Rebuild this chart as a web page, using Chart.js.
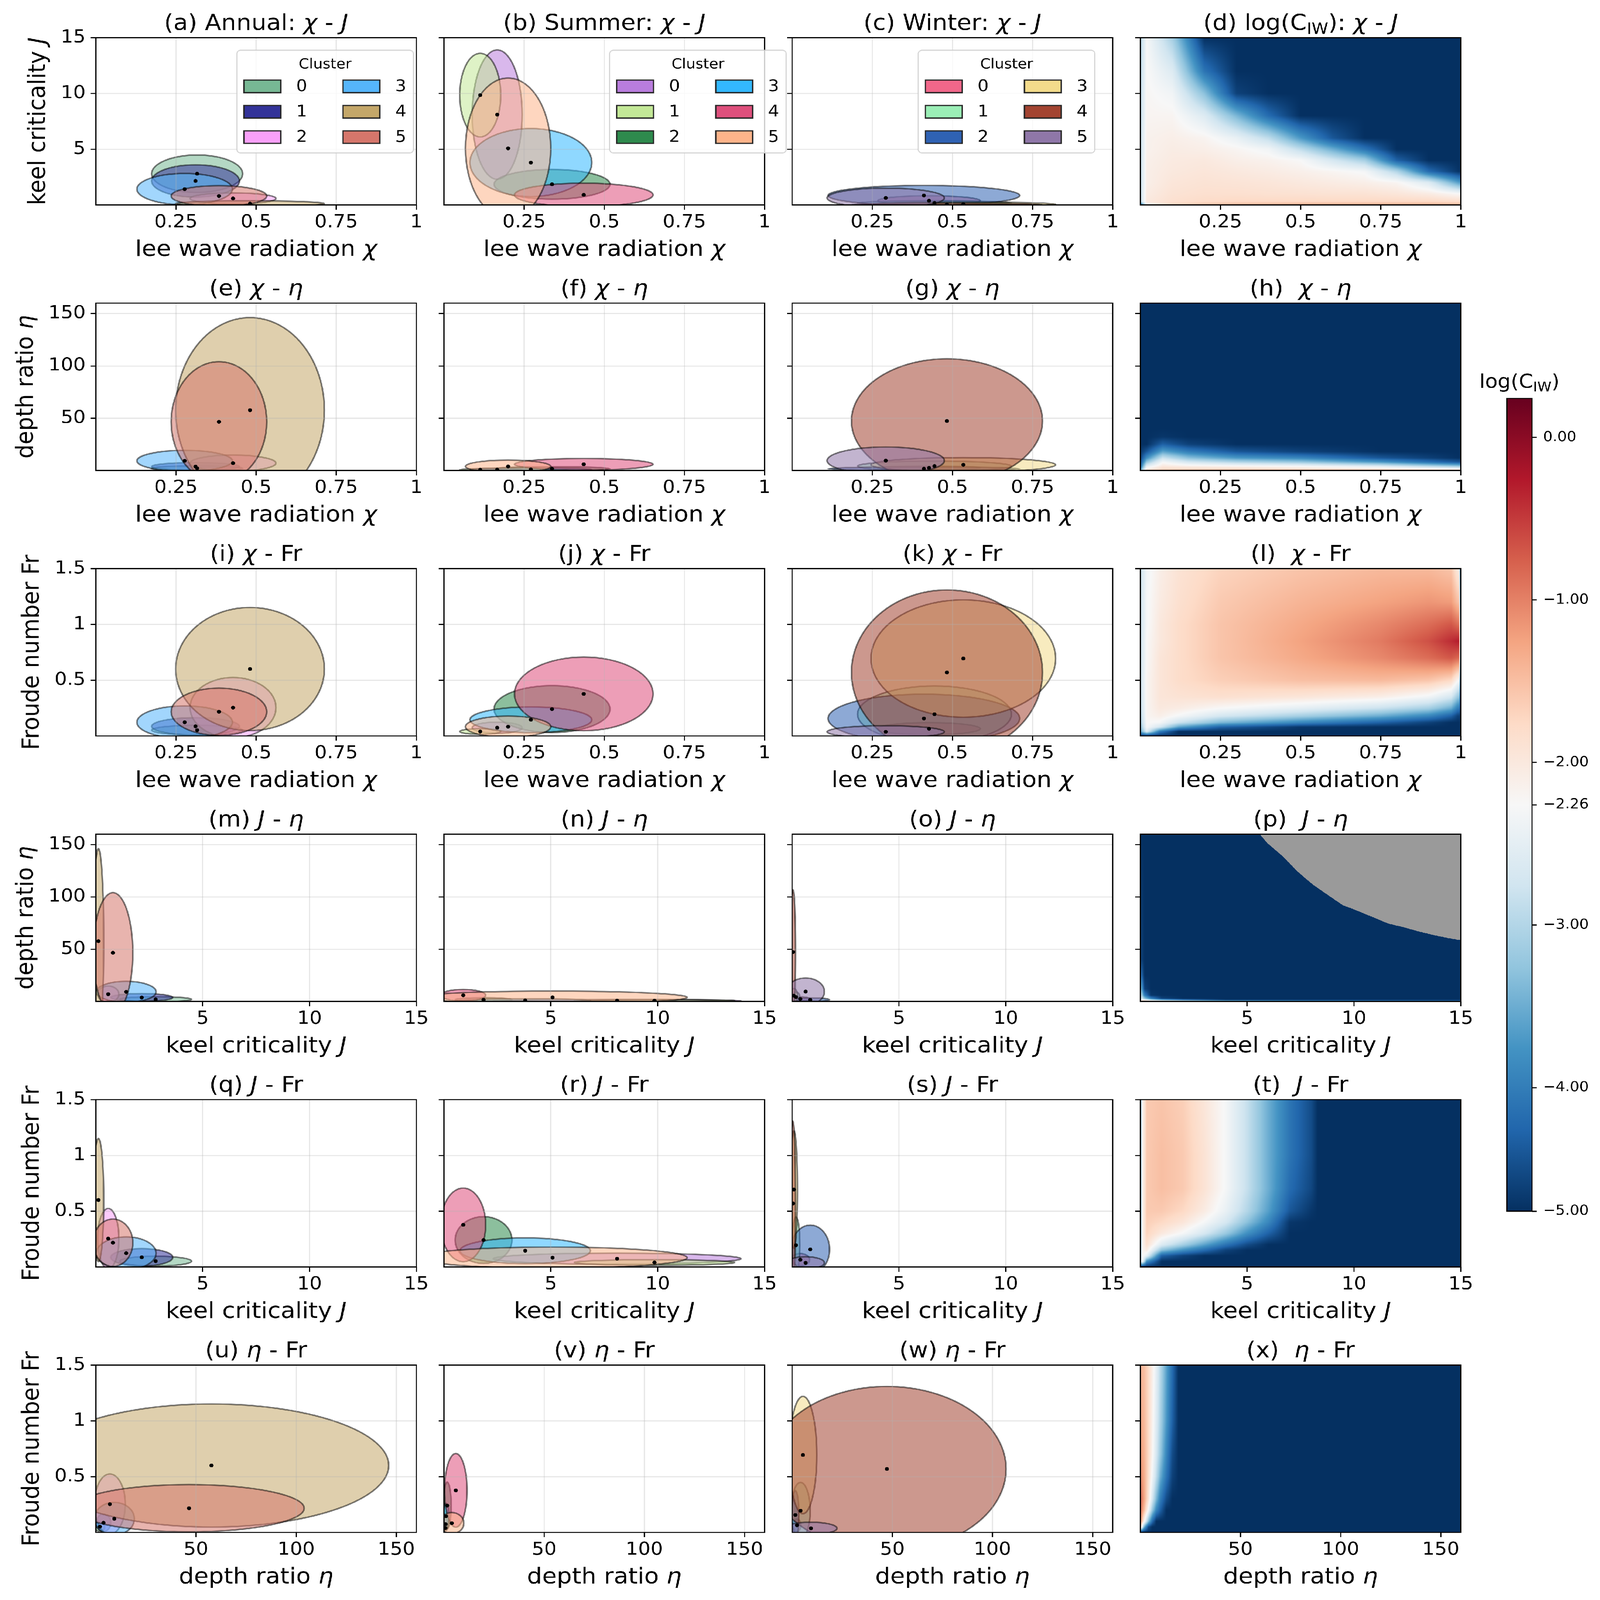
<!DOCTYPE html>
<html>
<head>
<meta charset="UTF-8">
<title>Cluster ellipses and log(C_IW)</title>
<script src="https://cdn.jsdelivr.net/npm/chart.js@4.4.1/dist/chart.umd.min.js"></script>
<style>
  html, body { margin: 0; padding: 0; background: #fff; overflow: hidden; }
  #fig { position: relative; width: 5910px; height: 6370px; background: #fff; overflow: hidden; transform-origin: 0 0; }
  #fig canvas { position: absolute; }
</style>
</head>
<body>
<div id="fig"></div>
<script>
// ---- cluster means and spreads (chi, J, eta, Fr) ----
const clusterIds = ['0', '1', '2', '3', '4', '5'];

const annualChi = [0.316, 0.311, 0.428, 0.277, 0.481, 0.384];
const annualJ   = [2.80, 2.15, 0.58, 1.42, 0.12, 0.80];
const annualEta = [2.0, 3.8, 7.0, 9.2, 57.7, 46.5];
const annualFr  = [0.052, 0.086, 0.254, 0.123, 0.600, 0.217];
const annualChiSd = [0.142, 0.137, 0.134, 0.149, 0.232, 0.149];
const annualJSd   = [1.68, 1.45, 0.50, 1.40, 0.25, 0.93];
const annualEtaSd = [2.5, 3.7, 7.7, 10.0, 88.5, 57.5];
const annualFrSd  = [0.044, 0.078, 0.27, 0.146, 0.552, 0.212];

const summerChi = [0.166, 0.113, 0.337, 0.271, 0.436, 0.200];
const summerJ   = [8.10, 9.85, 1.85, 3.80, 0.90, 5.08];
const summerEta = [0.8, 0.7, 1.6, 1.0, 5.9, 3.9];
const summerFr  = [0.074, 0.040, 0.241, 0.145, 0.377, 0.083];
const summerChiSd = [0.078, 0.064, 0.181, 0.190, 0.216, 0.133];
const summerJSd   = [5.8, 3.75, 1.33, 3.05, 1.05, 6.3];
const summerEtaSd = [1.2, 1.0, 2.0, 1.5, 5.6, 6.0];
const summerFrSd  = [0.05, 0.025, 0.21, 0.115, 0.33, 0.095];

const winterChi = [0.427, 0.444, 0.411, 0.534, 0.483, 0.292];
const winterJ   = [0.38, 0.18, 0.85, 0.08, 0.04, 0.63];
const winterEta = [2.4, 4.2, 1.6, 5.4, 47.3, 9.4];
const winterFr  = [0.065, 0.195, 0.157, 0.694, 0.569, 0.037];
const winterChiSd = [0.160, 0.240, 0.299, 0.288, 0.298, 0.183];
const winterJSd   = [0.44, 0.18, 0.90, 0.17, 0.12, 0.88];
const winterEtaSd = [2.0, 4.8, 1.8, 6.9, 59.5, 13.0];
const winterFrSd  = [0.055, 0.253, 0.218, 0.526, 0.740, 0.055];

const annualColors = ['#77b894', '#333399', '#f9a0f9', '#55b5fb', '#c4a769', '#d5766b'];
const summerColors = ['#b97ddd', '#c3e897', '#2e8a4d', '#33b8ff', '#de4f7c', '#feb48a'];
const winterColors = ['#f1678a', '#9beeb6', '#2f62b3', '#f3db8b', '#a34431', '#8f77a8'];
const seasonNames = ['Annual', 'Summer', 'Winter'];

// ---- axes ----
const chiRange = [0, 1],   chiTicks = [0.25, 0.5, 0.75, 1], chiTickLabels = ['0.25', '0.5', '0.75', '1'];
const jRange   = [0, 15],  jTicks = [5, 10, 15],            jTickLabels = ['5', '10', '15'];
const etaRange = [0, 160], etaTicks = [50, 100, 150],       etaTickLabels = ['50', '100', '150'];
const frRange  = [0, 1.5], frTicks = [0.5, 1, 1.5],         frTickLabels = ['0.5', '1', '1.5'];

// ---- log(C_IW) fields (rows = y nodes, bottom to top) ----
const dGridX = [0, 0.02, 0.1, 0.2, 0.3, 0.4, 0.5, 0.6, 0.7, 0.8, 0.9, 1.0];
const dGridY = [0, 0.3, 1, 2, 3, 4, 5, 6, 8, 10, 12, 15];
const dLogC = [
  [-4.5, -2.3, -1.7, -1.5, -1.4, -1.35, -1.3, -1.3, -1.3, -1.3, -1.3, -1.4],
  [-2.9, -2.0, -1.85, -1.78, -1.75, -1.75, -1.75, -1.75, -1.75, -1.75, -1.75, -1.8],
  [-2.85, -2.05, -1.9, -1.85, -1.85, -1.87, -1.88, -1.9, -1.9, -1.95, -2.05, -2.26],
  [-2.85, -2.1, -1.95, -1.9, -1.92, -1.95, -2.0, -2.05, -2.1, -2.2, -2.6, -3.7],
  [-2.85, -2.1, -2.0, -1.95, -2.0, -2.05, -2.12, -2.2, -2.3, -3.0, -4.2, -4.76],
  [-2.85, -2.12, -2.03, -2.0, -2.1, -2.15, -2.26, -2.7, -3.1, -4.3, -4.76, -4.76],
  [-2.85, -2.15, -2.06, -2.1, -2.2, -2.35, -2.9, -3.5, -4.1, -4.76, -4.76, -4.76],
  [-2.85, -2.15, -2.1, -2.18, -2.45, -2.9, -3.7, -4.4, -4.76, -4.76, -4.76, -4.76],
  [-2.9, -2.2, -2.2, -2.6, -3.4, -4.2, -4.76, -4.76, -4.76, -4.76, -4.76, -4.76],
  [-2.9, -2.22, -2.35, -3.3, -4.6, -4.76, -4.76, -4.76, -4.76, -4.76, -4.76, -4.76],
  [-2.95, -2.25, -2.6, -4.1, -4.76, -4.76, -4.76, -4.76, -4.76, -4.76, -4.76, -4.76],
  [-3.0, -2.3, -3.1, -4.76, -4.76, -4.76, -4.76, -4.76, -4.76, -4.76, -4.76, -4.76]
];

const hGridX = [0, 0.02, 0.07, 0.15, 0.3, 0.5, 0.75, 1.0];
const hGridY = [0, 1.5, 4, 8, 12, 18, 25, 32, 40, 160];
const hLogC = [
  [-3.5, -1.8, -1.6, -1.5, -1.4, -1.4, -1.45, -1.6],
  [-3.8, -2.1, -1.8, -1.8, -1.8, -1.9, -2.0, -2.3],
  [-4.2, -2.5, -2.0, -2.1, -2.2, -2.3, -2.6, -3.2],
  [-4.5, -3.2, -2.3, -2.7, -3.0, -3.2, -3.7, -4.4],
  [-4.6, -3.8, -2.8, -3.3, -3.7, -3.9, -4.4, -4.76],
  [-4.7, -4.4, -3.6, -4.0, -4.4, -4.6, -4.76, -4.76],
  [-4.76, -4.76, -4.3, -4.6, -4.76, -4.76, -4.76, -4.76],
  [-4.76, -4.76, -4.7, -4.76, -4.76, -4.76, -4.76, -4.76],
  [-4.76, -4.76, -4.76, -4.76, -4.76, -4.76, -4.76, -4.76],
  [-4.76, -4.76, -4.76, -4.76, -4.76, -4.76, -4.76, -4.76]
];

const lGridX = [0, 0.02, 0.06, 0.12, 0.25, 0.5, 0.75, 0.9, 0.97, 0.99, 0.994, 1.0];
const lGridY = [0, 0.04, 0.08, 0.12, 0.18, 0.25, 0.35, 0.5, 0.7, 0.85, 1.0, 1.2, 1.5];
const lLogC = [
  [-4.76, -4.76, -4.76, -4.76, -4.76, -4.76, -4.76, -4.76, -4.76, -4.76, -4.76, -4.76],
  [-3.6, -2.6, -4.0, -4.76, -4.76, -4.76, -4.76, -4.76, -4.76, -4.76, -4.76, -4.76],
  [-3.3, -2.3, -2.7, -3.6, -4.3, -4.7, -4.76, -4.76, -4.76, -4.76, -4.76, -4.76],
  [-3.1, -2.25, -2.3, -2.8, -3.4, -3.9, -4.3, -4.6, -4.76, -4.76, -4.76, -4.76],
  [-3.0, -2.2, -2.1, -2.3, -2.7, -3.1, -3.5, -3.9, -4.3, -4.6, -4.6, -4.76],
  [-2.9, -2.2, -2.0, -2.05, -2.25, -2.5, -2.8, -3.1, -3.5, -4.0, -4.0, -4.76],
  [-2.85, -2.2, -1.95, -1.9, -1.85, -1.95, -2.1, -2.35, -2.7, -3.2, -3.2, -4.76],
  [-2.8, -2.2, -1.95, -1.8, -1.65, -1.5, -1.45, -1.55, -1.75, -2.2, -2.2, -4.7],
  [-2.8, -2.25, -1.95, -1.8, -1.55, -1.3, -1.05, -0.85, -0.7, -0.8, -0.8, -4.6],
  [-2.8, -2.25, -2.0, -1.8, -1.55, -1.25, -0.95, -0.65, -0.4, -0.3, -0.3, -4.5],
  [-2.8, -2.3, -2.0, -1.8, -1.55, -1.3, -1.05, -0.85, -0.7, -0.85, -0.85, -4.6],
  [-2.8, -2.3, -2.05, -1.85, -1.6, -1.4, -1.25, -1.15, -1.2, -1.5, -1.5, -4.7],
  [-2.8, -2.35, -2.1, -1.9, -1.7, -1.55, -1.45, -1.45, -1.55, -2.0, -2.0, -4.7]
];

const pGridX = [0, 0.05, 0.2, 0.5, 1, 2, 4, 8, 15];
const pGridY = [0, 0.5, 1.5, 3, 6, 12, 25, 40, 160];
const pLogC = [
  [-4.76, -1.5, -1.3, -1.3, -1.4, -1.8, -2.3, -2.6, -2.8],
  [-4.76, -1.8, -1.6, -1.8, -2.0, -2.3, -2.9, -3.5, -4.0],
  [-4.76, -2.2, -2.5, -3.0, -3.6, -4.2, -4.76, -4.76, -4.76],
  [-4.76, -2.6, -3.3, -4.0, -4.6, -4.76, -4.76, -4.76, -4.76],
  [-4.76, -3.0, -4.0, -4.7, -4.76, -4.76, -4.76, -4.76, -4.76],
  [-4.76, -3.5, -4.6, -4.76, -4.76, -4.76, -4.76, -4.76, -4.76],
  [-4.76, -4.2, -4.76, -4.76, -4.76, -4.76, -4.76, -4.76, -4.76],
  [-4.76, -4.6, -4.76, -4.76, -4.76, -4.76, -4.76, -4.76, -4.76],
  [-4.76, -4.76, -4.76, -4.76, -4.76, -4.76, -4.76, -4.76, -4.76]
];
// edge of the undefined (grey) region in panel (p)
const pNanJ   = [5.59, 5.94, 6.65, 7.36, 8.07, 8.77, 9.48, 10.0, 10.9, 11.6, 12.3, 13.0, 13.7, 14.4, 15.0];
const pNanEta = [160, 151.5, 139.1, 124.2, 111.8, 101.9, 92.0, 88.0, 80.5, 74.5, 71.1, 67.1, 63.6, 60.6, 58.6];

const tGridX = [0, 0.1, 0.3, 1, 2, 3, 4, 5, 6, 7, 8, 8.3, 15];
const tGridY = [0, 0.05, 0.1, 0.15, 0.2, 0.3, 0.4, 0.5, 0.7, 1.0, 1.5];
const tLogC = [
  [-4.76, -4.76, -4.76, -4.76, -4.76, -4.76, -4.76, -4.76, -4.76, -4.76, -4.76, -4.76, -4.76],
  [-3.0, -2.3, -3.8, -4.76, -4.76, -4.76, -4.76, -4.76, -4.76, -4.76, -4.76, -4.76, -4.76],
  [-3.2, -2.2, -2.5, -4.3, -4.6, -4.76, -4.76, -4.76, -4.76, -4.76, -4.76, -4.76, -4.76],
  [-3.3, -2.2, -2.05, -3.3, -3.8, -4.2, -4.6, -4.76, -4.76, -4.76, -4.76, -4.76, -4.76],
  [-3.4, -2.2, -1.85, -2.6, -3.1, -3.6, -4.1, -4.5, -4.76, -4.76, -4.76, -4.76, -4.76],
  [-3.5, -2.2, -1.7, -2.0, -2.3, -2.7, -3.2, -3.8, -4.3, -4.76, -4.76, -4.76, -4.76],
  [-3.5, -2.2, -1.65, -1.75, -1.95, -2.3, -2.7, -3.3, -3.9, -4.7, -4.76, -4.76, -4.76],
  [-3.5, -2.2, -1.6, -1.6, -1.75, -2.05, -2.45, -3.0, -3.65, -4.4, -4.7, -4.76, -4.76],
  [-3.5, -2.2, -1.6, -1.5, -1.6, -1.9, -2.3, -2.85, -3.5, -4.2, -4.55, -4.76, -4.76],
  [-3.5, -2.2, -1.6, -1.5, -1.6, -1.9, -2.3, -2.85, -3.5, -4.1, -4.5, -4.76, -4.76],
  [-3.5, -2.2, -1.6, -1.55, -1.65, -1.95, -2.3, -2.85, -3.5, -4.1, -4.5, -4.76, -4.76]
];

const xGridX = [0, 0.5, 2, 4, 6, 8, 10, 13, 16, 19, 160];
const xGridY = [0, 0.05, 0.1, 0.2, 0.3, 0.5, 0.7, 1.0, 1.5];
const xLogC = [
  [-4.76, -4.76, -4.76, -4.76, -4.76, -4.76, -4.76, -4.76, -4.76, -4.76, -4.76],
  [-3.0, -2.0, -3.5, -4.5, -4.76, -4.76, -4.76, -4.76, -4.76, -4.76, -4.76],
  [-3.0, -1.3, -2.2, -3.3, -4.2, -4.76, -4.76, -4.76, -4.76, -4.76, -4.76],
  [-3.0, -1.0, -1.5, -2.3, -3.2, -3.9, -4.3, -4.76, -4.76, -4.76, -4.76],
  [-3.0, -0.9, -1.3, -1.9, -2.7, -3.4, -4.0, -4.5, -4.76, -4.76, -4.76],
  [-3.0, -1.1, -1.35, -1.8, -2.35, -2.9, -3.5, -4.1, -4.6, -4.76, -4.76],
  [-3.0, -1.2, -1.4, -1.75, -2.2, -2.7, -3.2, -3.9, -4.5, -4.76, -4.76],
  [-3.0, -1.3, -1.45, -1.75, -2.15, -2.6, -3.05, -3.7, -4.3, -4.76, -4.76],
  [-3.0, -1.4, -1.5, -1.75, -2.1, -2.5, -2.95, -3.6, -4.2, -4.76, -4.76]
];

// colour bar
const cbMin = -4.76, cbMax = 0.24;
const cbTicks = [0, -1, -2, -2.26, -3, -4, -4.76];
const cbTickLabels = ['0.00', '\u22121.00', '\u22122.00', '\u22122.26', '\u22123.00', '\u22124.00', '\u22125.00'];
const rdbuR = ['#053061', '#2166ac', '#4393c3', '#92c5de', '#d1e5f0', '#f7f7f7',
               '#fddbc7', '#f4a582', '#d6604d', '#b2182b', '#67001f'];

// ---- layout ----
const FIG_W = 5910, FIG_H = 6370;
const colLeft = [354, 1640, 2926, 4212];
const rowTop = [150, 1207, 2264, 3321, 4378, 5435];
const AW = 1184, AH = 666;
const PL = 350, PT = 150, PR = 120, PB = 260;
const FONT = '"DejaVu Sans"';
const legendLeft = [521, 612, 466];

Chart.defaults.font.family = FONT;
Chart.defaults.color = '#000';

const rowX = ['chi', 'chi', 'chi', 'J', 'J', 'eta'];
const rowY = ['J', 'eta', 'Fr', 'eta', 'Fr', 'Fr'];
const letters = 'abcdefghijklmnopqrstuvwx';

const seasonMean = [
  { chi: annualChi, J: annualJ, eta: annualEta, Fr: annualFr },
  { chi: summerChi, J: summerJ, eta: summerEta, Fr: summerFr },
  { chi: winterChi, J: winterJ, eta: winterEta, Fr: winterFr }
];
const seasonSd = [
  { chi: annualChiSd, J: annualJSd, eta: annualEtaSd, Fr: annualFrSd },
  { chi: summerChiSd, J: summerJSd, eta: summerEtaSd, Fr: summerFrSd },
  { chi: winterChiSd, J: winterJSd, eta: winterEtaSd, Fr: winterFrSd }
];
const seasonColors = [annualColors, summerColors, winterColors];

const fields = [
  [dGridX, dGridY, dLogC], [hGridX, hGridY, hLogC], [lGridX, lGridY, lLogC],
  [pGridX, pGridY, pLogC, pNanJ, pNanEta], [tGridX, tGridY, tLogC], [xGridX, xGridY, xLogC]
];

function axisOf(v) {
  if (v === 'chi') return { range: chiRange, ticks: chiTicks, labels: chiTickLabels, sym: ['\u03c7', 'i'],
    title: [['lee wave radiation ', 'n'], ['\u03c7', 'i']] };
  if (v === 'J') return { range: jRange, ticks: jTicks, labels: jTickLabels, sym: ['J', 'i'],
    title: [['keel criticality ', 'n'], ['J', 'i']] };
  if (v === 'eta') return { range: etaRange, ticks: etaTicks, labels: etaTickLabels, sym: ['\u03b7', 'i'],
    title: [['depth ratio ', 'n'], ['\u03b7', 'i']] };
  return { range: frRange, ticks: frTicks, labels: frTickLabels, sym: ['Fr', 'n'],
    title: [['Froude number Fr', 'n']] };
}

// ---- text helpers (mathtext-like italics / subscripts) ----
function segFont(st, size) {
  const s = st === 's' ? Math.round(size * 0.7) : size;
  return (st === 'i' ? 'italic ' : '') + s + 'px ' + FONT;
}
function richWidth(ctx, segs, size) {
  let w = 0;
  for (const [t, st] of segs) { ctx.font = segFont(st, size); w += ctx.measureText(t).width; }
  return w;
}
function drawRich(ctx, segs, x, y, size) {
  let cx = x - richWidth(ctx, segs, size) / 2;
  ctx.textAlign = 'left';
  ctx.textBaseline = 'alphabetic';
  ctx.fillStyle = '#000';
  for (const [t, st] of segs) {
    ctx.font = segFont(st, size);
    ctx.fillText(t, cx, st === 's' ? y + size * 0.18 : y);
    cx += ctx.measureText(t).width;
  }
}

function hexRgb(h) {
  return [parseInt(h.slice(1, 3), 16), parseInt(h.slice(3, 5), 16), parseInt(h.slice(5, 7), 16)];
}
const cmapRGB = rdbuR.map(hexRgb);
function cmap(v) {
  let t = (v - cbMin) / (cbMax - cbMin);
  t = Math.max(0, Math.min(1, t)) * 10;
  let i = Math.floor(t); if (i > 9) i = 9;
  const f = t - i, a = cmapRGB[i], b = cmapRGB[i + 1];
  return [a[0] + (b[0] - a[0]) * f, a[1] + (b[1] - a[1]) * f, a[2] + (b[2] - a[2]) * f];
}

function locate(nodes, v) {
  const n = nodes.length;
  if (v <= nodes[0]) return [0, 0];
  if (v >= nodes[n - 1]) return [n - 2, 1];
  let i = 0;
  while (nodes[i + 1] < v) i++;
  return [i, (v - nodes[i]) / (nodes[i + 1] - nodes[i])];
}
function nanLimit(xs, ys, x) {
  if (x < xs[0]) return Infinity;
  const [i, f] = locate(xs, x);
  return ys[i] + (ys[i + 1] - ys[i]) * f;
}

function paintField(chart, f) {
  const [gx, gy, vals, nx, ny] = f;
  const a = chart.chartArea, sx = chart.scales.x, sy = chart.scales.y, ctx = chart.ctx;
  const L = Math.round(a.left), T = Math.round(a.top);
  const w = Math.round(a.right) - L, h = Math.round(a.bottom) - T;
  const img = ctx.createImageData(w, h), d = img.data;
  const colX = [], rowV = [];
  for (let i = 0; i < w; i++) { const v = sx.getValueForPixel(L + i + 0.5); colX.push([v, locate(gx, v)]); }
  for (let j = 0; j < h; j++) { const v = sy.getValueForPixel(T + j + 0.5); rowV.push([v, locate(gy, v)]); }
  for (let j = 0; j < h; j++) {
    const [yv, [yi, fy]] = rowV[j];
    const r0 = vals[yi], r1 = vals[yi + 1];
    for (let i = 0; i < w; i++) {
      const [xv, [xi, fx]] = colX[i];
      let rgb;
      if (nx && yv > nanLimit(nx, ny, xv)) rgb = [154, 154, 154];
      else {
        const v = (1 - fy) * ((1 - fx) * r0[xi] + fx * r0[xi + 1]) + fy * ((1 - fx) * r1[xi] + fx * r1[xi + 1]);
        rgb = cmap(v);
      }
      const k = (j * w + i) * 4;
      d[k] = rgb[0]; d[k + 1] = rgb[1]; d[k + 2] = rgb[2]; d[k + 3] = 255;
    }
  }
  ctx.putImageData(img, L, T);
}

function drawEllipses(chart, c, xv, yv) {
  const a = chart.chartArea, sx = chart.scales.x, sy = chart.scales.y, ctx = chart.ctx;
  const m = seasonMean[c], s = seasonSd[c], cols = seasonColors[c];
  ctx.save();
  ctx.beginPath();
  ctx.rect(a.left, a.top, a.right - a.left, a.bottom - a.top);
  ctx.clip();
  for (let k = 0; k < clusterIds.length; k++) {
    const cx = sx.getPixelForValue(m[xv][k]), cy = sy.getPixelForValue(m[yv][k]);
    const rx = Math.abs(sx.getPixelForValue(m[xv][k] + s[xv][k]) - cx);
    const ry = Math.abs(sy.getPixelForValue(m[yv][k] + s[yv][k]) - cy);
    const rgb = hexRgb(cols[k]);
    ctx.beginPath();
    ctx.ellipse(cx, cy, rx, ry, 0, 0, Math.PI * 2);
    ctx.fillStyle = 'rgba(' + rgb.join(',') + ',0.55)';
    ctx.fill();
    ctx.lineWidth = 6;
    ctx.strokeStyle = 'rgba(0,0,0,0.5)';
    ctx.stroke();
  }
  ctx.restore();
}

function drawLegend(chart, c) {
  const a = chart.chartArea, ctx = chart.ctx, cols = seasonColors[c];
  const L = a.left + legendLeft[c], T = a.top + 50, W = 652, H = 409;
  ctx.save();
  ctx.beginPath();
  if (ctx.roundRect) ctx.roundRect(L, T, W, H, 14); else ctx.rect(L, T, W, H);
  ctx.fillStyle = 'rgba(255,255,255,0.8)';
  ctx.fill();
  ctx.lineWidth = 4;
  ctx.strokeStyle = 'rgba(204,204,204,0.8)';
  ctx.stroke();
  ctx.fillStyle = '#000';
  ctx.font = '55px ' + FONT;
  ctx.textAlign = 'center';
  ctx.textBaseline = 'alphabetic';
  ctx.fillText('Cluster', L + W / 2, T + 72);
  for (let k = 0; k < clusterIds.length; k++) {
    const col = Math.floor(k / 3), row = k % 3;
    const px = L + 26 + col * 366, py = T + 144 + row * 101;
    ctx.fillStyle = cols[k];
    ctx.fillRect(px, py - 25, 136, 50);
    ctx.lineWidth = 5;
    ctx.strokeStyle = '#262626';
    ctx.strokeRect(px, py - 25, 136, 50);
    ctx.fillStyle = '#000';
    ctx.font = '64px ' + FONT;
    ctx.textAlign = 'left';
    ctx.textBaseline = 'middle';
    ctx.fillText(clusterIds[k], px + 193, py + 2);
  }
  ctx.restore();
}

function panelTitle(r, c) {
  const xs = axisOf(rowX[r]).sym, ys = axisOf(rowY[r]).sym, L = letters[r * 4 + c];
  if (r === 0 && c < 3) return [['(' + L + ') ' + seasonNames[c] + ': ', 'n'], xs, [' - ', 'n'], ys];
  if (r === 0) return [['(' + L + ') log(C', 'n'], ['IW', 's'], ['): ', 'n'], xs, [' - ', 'n'], ys];
  if (c < 3) return [['(' + L + ') ', 'n'], xs, [' - ', 'n'], ys];
  return [['(' + L + ')  ', 'n'], xs, [' - ', 'n'], ys];
}

function scaleOpts(v, showLabels, drawGrid, isX) {
  const ax = axisOf(v);
  return {
    type: 'linear', min: ax.range[0], max: ax.range[1],
    afterBuildTicks: s => { s.ticks = ax.ticks.map(t => ({ value: t })); },
    afterFit: s => { if (isX) s.height = PB; else s.width = PL; },
    ticks: {
      autoSkip: false, maxRotation: 0, minRotation: 0, color: '#000',
      font: { family: FONT, size: 72 }, padding: isX ? 8 : 19,
      callback: (val, i) => showLabels ? ax.labels[i] : ''
    },
    grid: {
      drawOnChartArea: drawGrid, color: 'rgba(176,176,176,0.3)', lineWidth: 4.4,
      tickColor: '#000', tickWidth: 4.4, tickLength: 19
    },
    border: { display: false }
  };
}

const fig = document.getElementById('fig');
function addCanvas(left, top, w, h) {
  const cv = document.createElement('canvas');
  cv.width = w; cv.height = h;
  cv.style.left = left + 'px'; cv.style.top = top + 'px';
  cv.style.width = w + 'px'; cv.style.height = h + 'px';
  fig.appendChild(cv);
  return cv;
}

function makePanel(r, c) {
  const W = PL + AW + PR, H = PT + AH + PB;
  const cv = addCanvas(colLeft[c] - PL, rowTop[r] - PT, W, H);
  const xv = rowX[r], yv = rowY[r];
  const datasets = [];
  if (c < 3) {
    const m = seasonMean[c];
    datasets.push({
      data: m[xv].map((v, k) => ({ x: v, y: m[yv][k] })),
      pointRadius: 7.5, pointHoverRadius: 7.5, backgroundColor: '#000', borderWidth: 0
    });
  }
  const plugin = {
    id: 'panel',
    beforeDraw(chart) {
      if (c < 3) drawEllipses(chart, c, xv, yv);
      else paintField(chart, fields[r]);
    },
    afterDraw(chart) {
      const a = chart.chartArea, ctx = chart.ctx;
      ctx.save();
      ctx.lineWidth = 4.4;
      ctx.strokeStyle = '#000';
      ctx.strokeRect(a.left, a.top, a.right - a.left, a.bottom - a.top);
      const cx = (a.left + a.right) / 2;
      drawRich(ctx, panelTitle(r, c), cx, a.top - 31, 88);
      drawRich(ctx, axisOf(xv).title, cx, a.bottom + 203, 88);
      if (c === 0) {
        ctx.font = '72px ' + FONT;
        const maxW = Math.max(...axisOf(yv).labels.map(t => ctx.measureText(t).width));
        const bx = a.left - 38 - maxW - 58;
        ctx.translate(bx, (a.top + a.bottom) / 2);
        ctx.rotate(-Math.PI / 2);
        drawRich(ctx, axisOf(yv).title, 0, 0, 88);
      }
      ctx.restore();
      if (r === 0 && c < 3) drawLegend(chart, c);
    }
  };
  new Chart(cv, {
    type: 'scatter',
    data: { datasets },
    options: {
      responsive: false, animation: false, devicePixelRatio: 1,
      layout: { padding: { left: 0, top: PT, right: PR, bottom: 0 } },
      plugins: { legend: { display: false }, tooltip: { enabled: false } },
      events: [],
      scales: { x: scaleOpts(xv, true, c < 3, true), y: scaleOpts(yv, c === 0, c < 3, false) }
    },
    plugins: [plugin]
  });
}

function makeColorbar() {
  const left = 5566, top = 1586, bw = 93, bh = 3236;
  const padL = 220, padT = 100, padB = 60, axW = FIG_W - (left + bw);
  const cv = addCanvas(left - padL, top - padT, padL + bw + axW, padT + bh + padB);
  const plugin = {
    id: 'cbar',
    beforeDraw(chart) {
      const a = chart.chartArea, ctx = chart.ctx, sy = chart.scales.y;
      const g = ctx.createLinearGradient(0, sy.getPixelForValue(cbMin), 0, sy.getPixelForValue(cbMax));
      rdbuR.forEach((col, i) => g.addColorStop(i / (rdbuR.length - 1), col));
      ctx.fillStyle = g;
      ctx.fillRect(a.left, a.top, a.right - a.left, a.bottom - a.top);
    },
    afterDraw(chart) {
      const a = chart.chartArea, ctx = chart.ctx;
      ctx.save();
      ctx.lineWidth = 4.4;
      ctx.strokeStyle = '#000';
      ctx.strokeRect(a.left, a.top, a.right - a.left, a.bottom - a.top);
      drawRich(ctx, [['log(C', 'n'], ['IW', 's'], [')', 'n']], (a.left + a.right) / 2, a.top - 42, 76);
      ctx.restore();
    }
  };
  new Chart(cv, {
    type: 'scatter',
    data: { datasets: [] },
    options: {
      responsive: false, animation: false, devicePixelRatio: 1,
      layout: { padding: { left: padL, top: padT, right: 0, bottom: padB } },
      plugins: { legend: { display: false }, tooltip: { enabled: false } },
      events: [],
      scales: {
        x: { display: false, min: 0, max: 1 },
        y: {
          position: 'right', min: cbMin, max: cbMax,
          afterBuildTicks: s => { s.ticks = cbTicks.map(t => ({ value: t })); },
          afterFit: s => { s.width = axW; },
          ticks: { autoSkip: false, color: '#000', font: { family: FONT, size: 55 }, padding: 24,
                   callback: (val, i) => cbTickLabels[i] },
          grid: { drawOnChartArea: false, tickColor: '#000', tickWidth: 4.4, tickLength: 17 },
          border: { display: false }
        }
      }
    },
    plugins: [plugin]
  });
}

for (let r = 0; r < 6; r++) for (let c = 0; c < 4; c++) makePanel(r, c);
makeColorbar();

// fit the whole figure into the viewport the page is shown in
const fitX = Math.min(1, window.innerWidth / FIG_W), fitY = Math.min(1, window.innerHeight / FIG_H);
fig.style.transform = 'scale(' + fitX + ',' + fitY + ')';
</script>
</body>
</html>
